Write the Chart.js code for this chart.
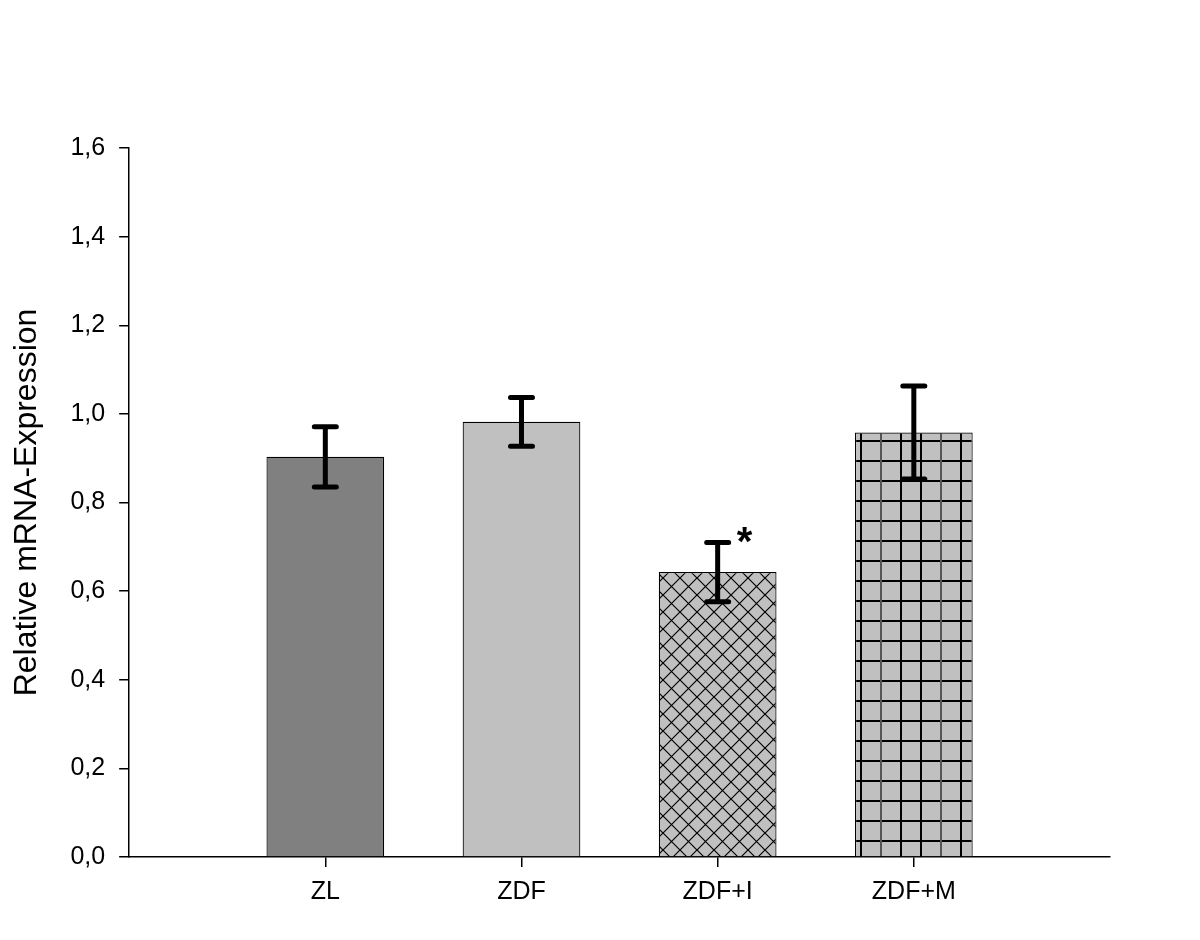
<!DOCTYPE html>
<html lang="en">
<head>
    <meta charset="UTF-8">
    <title>Relative mRNA-Expression</title>
    <style>
        body {
            margin: 0;
            padding: 0;
            background: #fff;
        }
        #chart {
            display: block;
        }
    </style>
</head>
<body>
    <canvas id="chart" width="1200" height="940"></canvas>

    <script src="https://cdn.jsdelivr.net/npm/chart.js"></script>
    <script>
        // groups, with empty slots at both ends so the bars sit like in the original plot
        const groups = ['', 'ZL', 'ZDF', 'ZDF+I', 'ZDF+M', ''];
        const means = [null, 0.903, 0.982, 0.643, 0.958, null];
        const errUp = [null, 0.068, 0.055, 0.067, 0.105, null];
        const errDown = [null, 0.068, 0.055, 0.067, 0.105, null];
        const marks = ['', '', '', '*', '', ''];

        const yTicks = [0, 0.2, 0.4, 0.6, 0.8, 1.0, 1.2, 1.4, 1.6];

        const FONT = '"Liberation Sans", Arial, sans-serif';

        function crossHatch() {
            const c = document.createElement('canvas');
            c.width = 17;
            c.height = 17;
            const g = c.getContext('2d');
            g.fillStyle = '#c0c0c0';
            g.fillRect(0, 0, 17, 17);
            g.strokeStyle = '#000';
            g.lineWidth = 1.2;
            g.beginPath();
            g.moveTo(0, 0); g.lineTo(17, 17);
            g.moveTo(17, 0); g.lineTo(0, 17);
            g.stroke();
            return g.createPattern(c, 'repeat');
        }

        function gridHatch() {
            const c = document.createElement('canvas');
            c.width = 60;
            c.height = 20;
            const g = c.getContext('2d');
            g.fillStyle = '#c0c0c0';
            g.fillRect(0, 0, 60, 20);
            g.fillStyle = '#000';
            g.fillRect(0, 0, 60, 2);
            g.fillRect(0, 0, 2, 20);
            g.fillRect(20, 0, 2, 20);
            g.fillStyle = '#555';
            g.fillRect(40, 0, 2, 20);
            return g.createPattern(c, 'repeat');
        }

        const fills = [null, '#808080', '#c0c0c0', crossHatch(), gridHatch(), null];

        const errorBars = {
            id: 'errorBars',
            afterDatasetsDraw(chart) {
                const ctx = chart.ctx;
                const y = chart.scales.y;
                const meta = chart.getDatasetMeta(0);
                ctx.save();
                ctx.strokeStyle = '#000';
                ctx.lineWidth = 5;
                ctx.lineCap = 'round';
                meta.data.forEach((bar, i) => {
                    if (means[i] === null) return;
                    const x = bar.x;
                    const top = y.getPixelForValue(means[i] + errUp[i]);
                    const bot = y.getPixelForValue(means[i] - errDown[i]);
                    ctx.beginPath();
                    ctx.moveTo(x, top); ctx.lineTo(x, bot);
                    ctx.moveTo(x - 11, top); ctx.lineTo(x + 11, top);
                    ctx.moveTo(x - 11, bot); ctx.lineTo(x + 11, bot);
                    ctx.stroke();
                    if (marks[i]) {
                        ctx.fillStyle = '#000';
                        ctx.font = 'bold 40px ' + FONT;
                        ctx.textAlign = 'left';
                        ctx.textBaseline = 'middle';
                        ctx.fillText(marks[i], x + 19, top + 2);
                    }
                });
                ctx.restore();
            }
        };

        const ctx = document.getElementById('chart').getContext('2d');
        new Chart(ctx, {
            type: 'bar',
            data: {
                labels: groups,
                datasets: [{
                    data: means,
                    backgroundColor: fills,
                    borderColor: '#000',
                    borderWidth: 1.2,
                    barPercentage: 0.6,
                    categoryPercentage: 1.0
                }]
            },
            options: {
                responsive: false,
                animation: false,
                layout: {
                    padding: { top: 148, right: 90, bottom: 23, left: 8 }
                },
                plugins: {
                    legend: { display: false },
                    tooltip: { enabled: false }
                },
                scales: {
                    x: {
                        offset: false,
                        border: { display: true, color: '#000', width: 1.5 },
                        grid: {
                            offset: false,
                            drawOnChartArea: false,
                            drawTicks: true,
                            tickLength: 10,
                            lineWidth: 1.5,
                            color: '#000',
                            tickColor: (c) => (c.index === 0 || c.index === groups.length - 1) ? 'rgba(0,0,0,0)' : '#000'
                        },
                        ticks: {
                            color: '#000',
                            padding: 10,
                            maxRotation: 0,
                            autoSkip: false,
                            font: { family: FONT, size: 25 }
                        }
                    },
                    y: {
                        min: 0,
                        max: 1.6,
                        afterBuildTicks: (scale) => {
                            scale.ticks = yTicks.map(v => ({ value: v }));
                        },
                        border: { display: true, color: '#000', width: 1.5 },
                        grid: {
                            drawOnChartArea: false,
                            drawTicks: true,
                            tickLength: 10,
                            lineWidth: 1.5,
                            color: '#000'
                        },
                        ticks: {
                            color: '#000',
                            padding: 14,
                            font: { family: FONT, size: 25 },
                            callback: (v) => Number(v).toFixed(1).replace('.', ',')
                        },
                        title: {
                            display: true,
                            text: 'Relative mRNA-Expression',
                            color: '#000',
                            padding: { top: 0, bottom: 10 },
                            font: { family: FONT, size: 32 }
                        }
                    }
                }
            },
            plugins: [errorBars]
        });
    </script>
</body>
</html>
